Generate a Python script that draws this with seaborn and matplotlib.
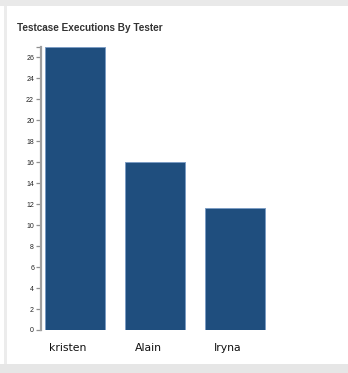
import matplotlib
matplotlib.use("Agg")
import matplotlib.pyplot as plt
from matplotlib.patches import Rectangle
import matplotlib.transforms as mtransforms
import seaborn as sns
import pandas as pd

testers = ["kristen", "Alain", "Iryna"]
executions = [27, 16, 11.6]
y_ticks = list(range(0, 27, 2))

sns.set_theme(style="white")
plt.rcParams['font.family'] = ['Liberation Sans', 'DejaVu Sans']

W, H = 348, 373
fig = plt.figure(figsize=(W / 100, H / 100), dpi=100)
fig.patch.set_facecolor("white")

# panel frame decoration
def px_rect(x0, y0, x1, y1, color):
    fig.patches.append(Rectangle((x0 / W, 1 - y1 / H), (x1 - x0) / W, (y1 - y0) / H,
                                 transform=fig.transFigure, facecolor=color,
                                 edgecolor="none", zorder=0))

px_rect(0, 0, W, 6, "#e9e9e9")
px_rect(4, 6, 7, 365, "#ececec")
px_rect(0, 364, W, H, "#e6e6e6")

left, right_px, top_px, bottom_px = 41, 275, 47, 330
ax = fig.add_axes([left / W, 1 - bottom_px / H, (right_px - left) / W, (bottom_px - top_px) / H])
ax.set_facecolor("none")

df = pd.DataFrame({"tester": testers, "executions": executions})
sns.barplot(data=df, x="tester", y="executions", color="#1f4e7e", saturation=1,
            width=0.75, edgecolor="#7c9cc4", linewidth=0.7, ax=ax)

ax.set_xlim(-0.425, 2.5)
ax.set_ylim(0, 27)
ax.set_yticks(y_ticks)
ax.set_yticklabels([str(t) for t in y_ticks])
ax.set_yticks([27], minor=True)
ax.set_xlabel("")
ax.set_ylabel("")

for s in ["top", "right", "bottom"]:
    ax.spines[s].set_visible(False)
ax.spines["left"].set_color("#a0a0a0")
ax.spines["left"].set_linewidth(1.6)

ax.tick_params(axis="y", which="both", left=True, length=3.5, width=0.9, color="#909090",
               labelsize=5, labelcolor="#222222", pad=1.5)
ax.tick_params(axis="x", bottom=False, labelsize=7.8, labelcolor="#111111", pad=3.5)
shift = mtransforms.ScaledTranslation(-7 / 100, 0, fig.dpi_scale_trans)
for lbl in ax.get_xticklabels():
    lbl.set_family(["DejaVu Sans"])
    lbl.set_transform(lbl.get_transform() + shift)

fig.text(17 / W, 1 - 28 / H, "Testcase Executions By Tester", fontsize=7.2,
         fontweight="bold", color="#333333", va="center", ha="left")

fig.savefig("out.png", dpi=100)
